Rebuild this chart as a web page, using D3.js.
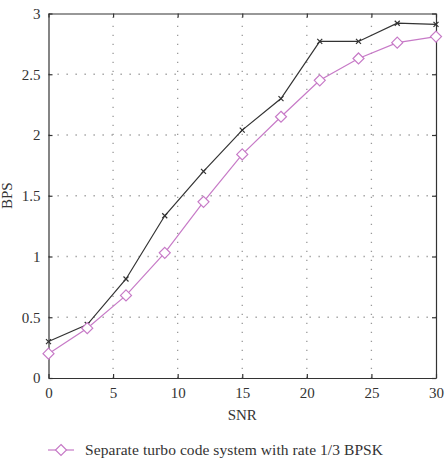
<!DOCTYPE html>
<html>
<head>
<meta charset="utf-8">
<title>BPS vs SNR</title>
<script src="https://d3js.org/d3.v7.min.js"></script>
<style>
  body { margin: 0; background: #fff; }
  svg { display: block; }
  text { font-family: "Liberation Serif", "DejaVu Serif", serif; fill: #333; }
</style>
</head>
<body>
<svg width="445" height="459"></svg>
<script>
// data
var snr = [0, 3, 6, 9, 12, 15, 18, 21, 24, 27, 30];
var joint = [0.30, 0.44, 0.815, 1.335, 1.70, 2.04, 2.30, 2.77, 2.77, 2.92, 2.91];
var separate = [0.20, 0.41, 0.68, 1.03, 1.45, 1.84, 2.15, 2.45, 2.63, 2.76, 2.81];
var xTicks = [0, 5, 10, 15, 20, 25, 30];
var yTicks = [0, 0.5, 1, 1.5, 2, 2.5, 3];
var legendLabel = "Separate turbo code system with rate 1/3 BPSK";

var svg = d3.select("svg"),
    plotL = 48.5, plotR = 436, plotT = 13.5, plotB = 378;

var x = d3.scaleLinear().domain([0, 30]).range([plotL, plotR]),
    y = d3.scaleLinear().domain([0, 3]).range([plotB, plotT]);

// dotted grid
var grid = svg.append("g")
  .attr("stroke", "#999")
  .attr("stroke-width", 1.3)
  .attr("stroke-dasharray", "1.3,7.7");
grid.selectAll(".gx")
  .data(xTicks.slice(1, -1))
  .enter().append("line")
  .attr("x1", function(d) { return x(d); })
  .attr("x2", function(d) { return x(d); })
  .attr("y1", plotB).attr("y2", plotT);
grid.selectAll(".gy")
  .data(yTicks.slice(1, -1))
  .enter().append("line")
  .attr("y1", function(d) { return y(d); })
  .attr("y2", function(d) { return y(d); })
  .attr("x1", plotL).attr("x2", plotR);

// axes
var fmt = function(d) { return String(d); };
var xAxis = svg.append("g")
  .attr("transform", "translate(0," + plotB + ")")
  .call(d3.axisBottom(x).tickValues(xTicks).tickFormat(fmt).tickSizeInner(-4).tickSizeOuter(0).tickPadding(9));
var xAxisTop = svg.append("g")
  .attr("transform", "translate(0," + plotT + ")")
  .call(d3.axisTop(x).tickValues(xTicks).tickSizeInner(-4).tickSizeOuter(0).tickFormat(""));
var yAxis = svg.append("g")
  .attr("transform", "translate(" + plotL + ",0)")
  .call(d3.axisLeft(y).tickValues(yTicks).tickFormat(fmt).tickSizeInner(-4).tickSizeOuter(0).tickPadding(8));
var yAxisRight = svg.append("g")
  .attr("transform", "translate(" + plotR + ",0)")
  .call(d3.axisRight(y).tickValues(yTicks).tickSizeInner(-4).tickSizeOuter(0).tickFormat(""));

[xAxis, xAxisTop, yAxis, yAxisRight].forEach(function(a) {
  a.selectAll("path, line").attr("stroke", "#333").attr("stroke-width", 1.2);
  a.selectAll("text").attr("font-size", 15).attr("fill", "#333")
   .style("font-family", "'Liberation Serif', serif");
});

// axis titles
svg.append("text")
  .attr("x", (plotL + plotR) / 2).attr("y", 420)
  .attr("text-anchor", "middle").attr("font-size", 15)
  .text("SNR");
svg.append("text")
  .attr("transform", "translate(12," + ((plotT + plotB) / 2) + ") rotate(-90)")
  .attr("text-anchor", "middle").attr("font-size", 15)
  .text("BPS");

var line = d3.line()
  .x(function(d) { return x(d[0]); })
  .y(function(d) { return y(d[1]); });

var jointPts = d3.zip(snr, joint),
    sepPts = d3.zip(snr, separate);

var pink = "#c77ac7", dark = "#333";

// dark series with x markers
svg.append("path")
  .datum(jointPts)
  .attr("d", line)
  .attr("fill", "none").attr("stroke", dark).attr("stroke-width", 1.2);
svg.selectAll(".xm")
  .data(jointPts)
  .enter().append("path")
  .attr("transform", function(d) { return "translate(" + x(d[0]) + "," + y(d[1]) + ")"; })
  .attr("d", "M-2.5,-2.5L2.5,2.5M-2.5,2.5L2.5,-2.5")
  .attr("stroke", dark).attr("stroke-width", 1.2);

// pink series with diamond markers
svg.append("path")
  .datum(sepPts)
  .attr("d", line)
  .attr("fill", "none").attr("stroke", pink).attr("stroke-width", 1.2);
var diamond = "M0,-5.5L5.5,0L0,5.5L-5.5,0Z";
svg.selectAll(".dm")
  .data(sepPts)
  .enter().append("path")
  .attr("transform", function(d) { return "translate(" + x(d[0]) + "," + y(d[1]) + ")"; })
  .attr("d", diamond)
  .attr("fill", "#fff").attr("stroke", pink).attr("stroke-width", 1.2);

// legend
var lg = svg.append("g").attr("transform", "translate(0,450)");
lg.append("line").attr("x1", 48).attr("x2", 74).attr("y1", 0).attr("y2", 0)
  .attr("stroke", pink).attr("stroke-width", 1.2);
lg.append("path").attr("transform", "translate(61,0)").attr("d", diamond)
  .attr("fill", "#fff").attr("stroke", pink).attr("stroke-width", 1.2);
lg.append("text").attr("x", 85).attr("y", 5).attr("font-size", 15.5)
  .attr("textLength", 298).attr("lengthAdjust", "spacing")
  .text(legendLabel);
</script>
</body>
</html>
